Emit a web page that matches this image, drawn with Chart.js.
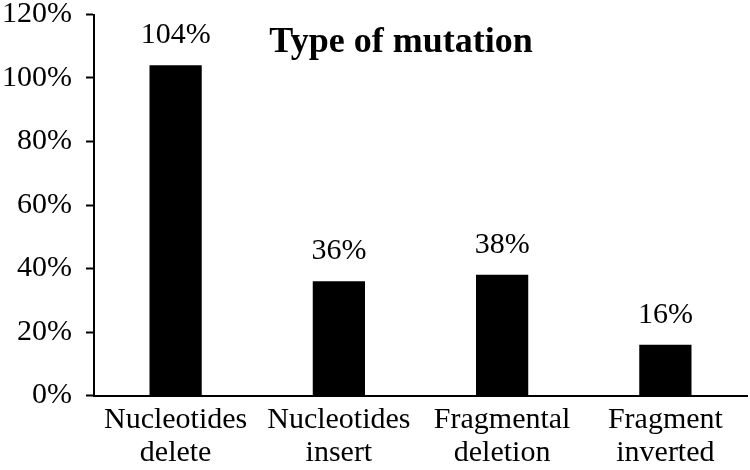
<!DOCTYPE html>
<html>
<head>
<meta charset="utf-8">
<script src="https://cdn.jsdelivr.net/npm/chart.js@4/dist/chart.umd.min.js"></script>
<style>
html,body{margin:0;padding:0;background:#fff;}
#wrap{width:750px;height:470px;position:relative;}
</style>
</head>
<body>
<div id="wrap"><canvas id="c"></canvas></div>
<script>
const categories = [["Nucleotides","delete"],["Nucleotides","insert"],["Fragmental","deletion"],["Fragment","inverted"]];
const values = [104, 36, 38, 16];
const valueLabels = ["104%", "36%", "38%", "16%"];
const yTicks = [0, 20, 40, 60, 80, 100, 120];
const chartTitle = "Type of mutation";

const FONT = "'Liberation Serif', 'Times New Roman', serif";

const overlay = {
  id: 'overlay',
  afterDatasetsDraw(chart) {
    const ctx = chart.ctx;
    const meta = chart.getDatasetMeta(0);
    ctx.save();
    ctx.fillStyle = '#000';
    ctx.font = "30px " + FONT;
    ctx.textAlign = 'center';
    ctx.textBaseline = 'bottom';
    meta.data.forEach((bar, i) => {
      ctx.fillText(valueLabels[i], bar.x, bar.y - 15);
    });
    const ca = chart.chartArea;
    ctx.font = "bold 36px " + FONT;
    ctx.textBaseline = 'alphabetic';
    ctx.fillText(chartTitle, ca.left + 307, ca.top + 37);
    ctx.restore();
  }
};

new Chart(document.getElementById('c'), {
  type: 'bar',
  data: {
    labels: categories,
    datasets: [{
      data: values,
      backgroundColor: '#000',
      borderWidth: 0,
      categoryPercentage: 1.0,
      barPercentage: 0.32
    }]
  },
  options: {
    responsive: true,
    maintainAspectRatio: false,
    animation: false,
    devicePixelRatio: 1,
    layout: { padding: { left: 0, right: 3, top: 14.5, bottom: -7.5 } },
    plugins: { legend: { display: false }, tooltip: { enabled: false } },
    scales: {
      x: {
        border: { display: true, color: '#000', width: 2 },
        grid: { display: false, drawTicks: false },
        ticks: {
          color: '#000',
          padding: 8,
          maxRotation: 0,
          autoSkip: false,
          font: { family: FONT, size: 30, lineHeight: 1.1 }
        }
      },
      y: {
        min: 0,
        max: 120,
        afterBuildTicks(scale) { scale.ticks = yTicks.map(v => ({ value: v })); },
        afterFit(scale) { scale.width = 94; scale.paddingTop = 0; },
        border: { display: true, color: '#000', width: 2 },
        grid: { drawOnChartArea: false, drawTicks: true, tickLength: 8, color: '#000', tickWidth: 2 },
        ticks: {
          color: '#000',
          padding: 14,
          font: { family: FONT, size: 30, lineHeight: 1.0 },
          callback: v => v + '%'
        }
      }
    }
  },
  plugins: [overlay]
});
</script>
</body>
</html>
